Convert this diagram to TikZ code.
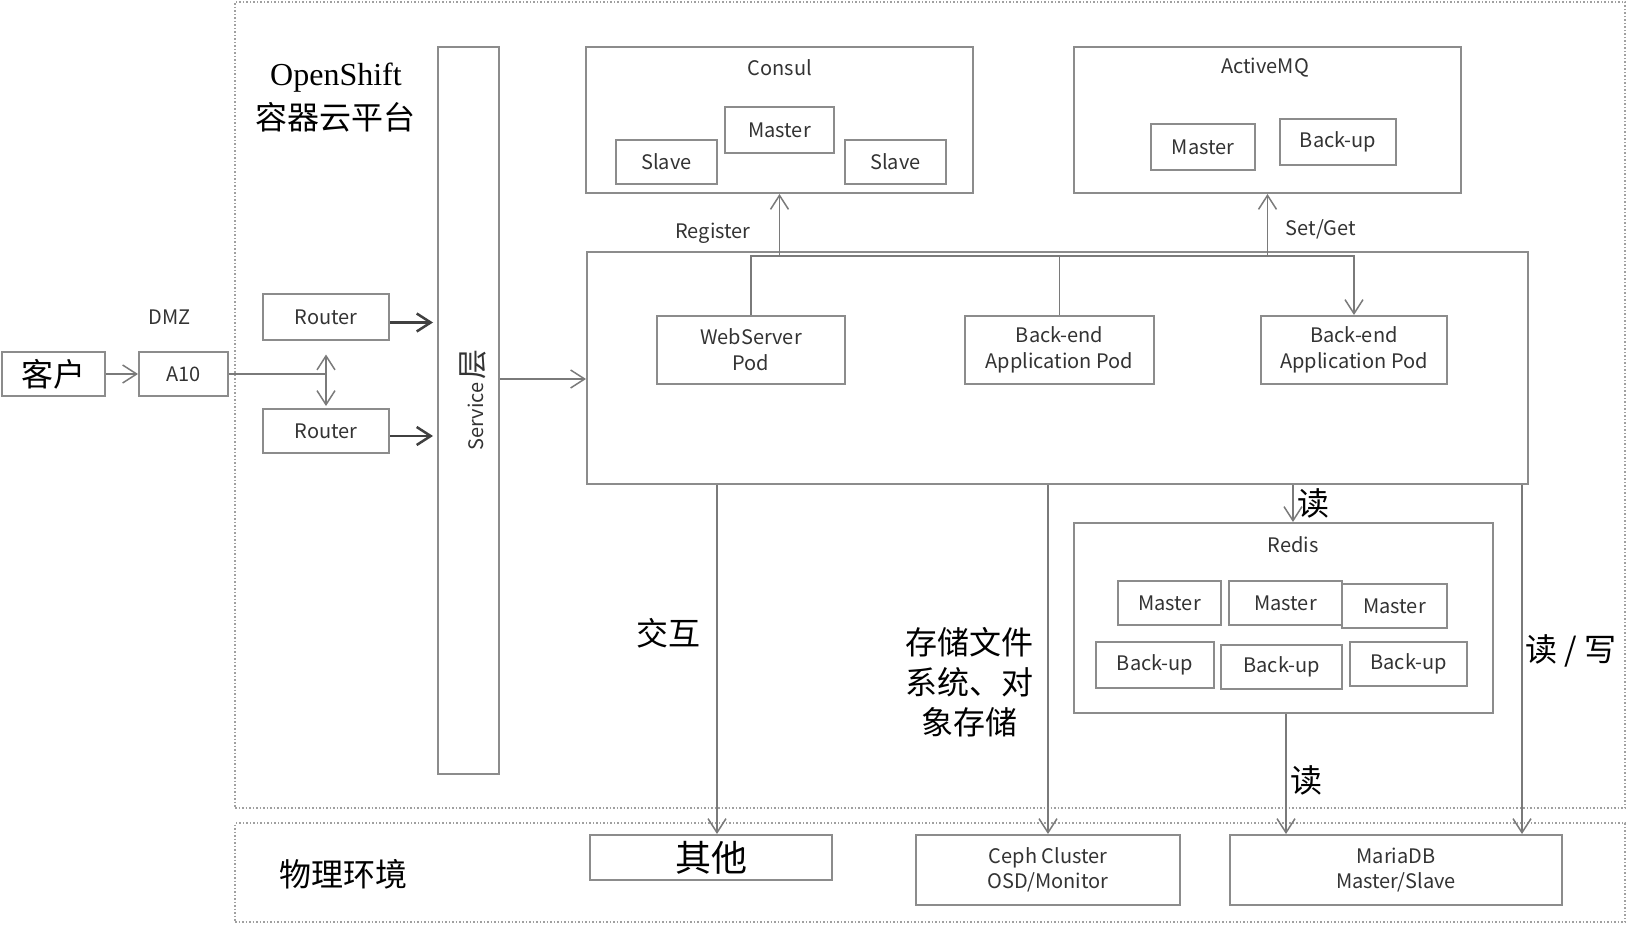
\documentclass[tikz,border=0pt]{standalone}
\usepackage{fontspec}
\setmainfont{Noto Sans CJK SC}
\newfontfamily\serifen{Liberation Serif}
\usetikzlibrary{arrows.meta}
\definecolor{boxgray}{HTML}{8C8C8C}
\definecolor{linegray}{HTML}{7A7A7A}
\definecolor{dotgray}{HTML}{A0A0A0}
\definecolor{routergray}{HTML}{404040}
\definecolor{labelgray}{HTML}{333333}

\begin{document}
\begin{tikzpicture}[x=1pt, y=-1pt,
    box/.style={draw=boxgray, line width=2pt, fill=white, inner sep=0pt, align=center, text=labelgray, font=\fontsize{20}{26}\selectfont},
    lbl/.style={text=labelgray, font=\fontsize{20}{26}\selectfont},
    cn/.style={text=black, font=\fontsize{32}{40}\selectfont},
    zone/.style={draw=dotgray, line width=1.5pt, dotted, inner sep=0pt},
    wire/.style={draw=linegray, line width=1.5pt},
    arr/.style={wire, -{Straight Barb[length=14pt, width=18pt]}},
    dbl/.style={wire, {Straight Barb[length=14pt, width=18pt]}-{Straight Barb[length=14pt, width=18pt]}},
    darr/.style={draw=routergray, line width=2.5pt, -{Straight Barb[length=14pt, width=18pt]}}]
    \useasboundingbox (0,0) rectangle (1628,925);

    \node[zone, minimum width=1390pt, minimum height=806pt] (ocp) at (930,405) {};
    \node[zone, minimum width=1390pt, minimum height=99pt] (phys) at (930,872.5) {};
    \node[font=\serifen\fontsize{32}{38}\selectfont] (osname) at (336,78) {OpenShift};
    \node[cn] (ostitle) at (335,117) {容器云平台};
    \node[cn] (physname) at (343,874) {物理环境};

    \node[box, cn, minimum width=103pt, minimum height=44pt] (client) at (53,374) {客户};
    \node[box, minimum width=89pt, minimum height=44pt] (a10) at (183.5,374) {A10};
    \node[lbl] (dmz) at (170,317) {DMZ};
    \node[box, minimum width=126pt, minimum height=46pt] (router1) at (326,317.5) {Router};
    \node[box, minimum width=126pt, minimum height=44pt] (router2) at (326,431) {Router};
    \node[box, minimum width=61pt, minimum height=727pt] (svc) at (468.5,410.5) {};
    \node[lbl, rotate=90] (svctxt) at (473,400) {Service\,{\fontsize{30}{30}\selectfont 层}};

    \node[box, minimum width=387pt, minimum height=146pt] (consul) at (779.5,120) {};
    \node[lbl] (consultitle) at (780,68) {Consul};
    \node[box, minimum width=109pt, minimum height=46pt] (cmaster) at (779.5,130) {Master};
    \node[box, minimum width=101pt, minimum height=44pt] (cslave1) at (666.5,162) {Slave};
    \node[box, minimum width=101pt, minimum height=44pt] (cslave2) at (895.5,162) {Slave};

    \node[box, minimum width=387pt, minimum height=146pt] (amq) at (1267.5,120) {};
    \node[lbl] (amqtitle) at (1265,68) {ActiveMQ};
    \node[box, minimum width=104pt, minimum height=46pt] (amaster) at (1203,147) {Master};
    \node[box, minimum width=116pt, minimum height=46pt] (abackup) at (1338,142) {Back-up};

    \node[box, minimum width=941pt, minimum height=232pt] (app) at (1057.5,368) {};
    \node[box, minimum width=188pt, minimum height=68pt] (web) at (751,350) {WebServer\\Pod};
    \node[box, minimum width=189pt, minimum height=68pt] (be1) at (1059.5,350) {Back-end\\Application Pod};
    \node[box, minimum width=186pt, minimum height=68pt] (be2) at (1354,350) {Back-end\\Application Pod};

    \node[box, minimum width=419pt, minimum height=190pt] (redis) at (1283.5,618) {};
    \node[lbl] (redistitle) at (1293,545) {Redis};
    \node[box, minimum width=103pt, minimum height=44pt] (rmaster1) at (1169.5,603) {Master};
    \node[box, minimum width=113pt, minimum height=44pt] (rmaster2) at (1285.5,603) {Master};
    \node[box, minimum width=105pt, minimum height=44pt] (rmaster3) at (1394.5,606) {Master};
    \node[box, minimum width=118pt, minimum height=46pt] (rbackup1) at (1155,665) {Back-up};
    \node[box, minimum width=121pt, minimum height=44pt] (rbackup2) at (1281.5,667) {Back-up};
    \node[box, minimum width=117pt, minimum height=44pt] (rbackup3) at (1408.5,664) {Back-up};

    \node[box, minimum width=242pt, minimum height=45pt, text=black, font=\fontsize{36}{40}\selectfont] (other) at (711,857.5) {其他};
    \node[box, minimum width=264pt, minimum height=70pt, font=\fontsize{20}{25}\selectfont] (ceph) at (1048,870) {Ceph Cluster\\OSD/Monitor};
    \node[box, minimum width=332pt, minimum height=70pt, font=\fontsize{20}{25}\selectfont] (maria) at (1396,870) {MariaDB\\Master/Slave};

    \node[cn] (jiaohu) at (668,633) {交互};
    \node[cn, align=center] (storage) at (969,682) {存储文件\\系统、对\\象存储};
    \node[cn] (rw) at (1571,651) {读 / 写};
    \node[lbl] (register) at (713,233) {Register};
    \node[lbl, anchor=west] (setget) at (1282,229) {Set/Get};

    \coordinate (mid) at (0,379);
    \coordinate (bus) at (0,256);
    \coordinate (xj) at (717,0);
    \coordinate (xr) at (1286,0);
    \coordinate (xw) at (1522,0);

    \draw[arr] (client) -- (a10);
    \draw[wire] (a10.east) -- (a10.east -| router1.south);
    \draw[dbl, shorten <=13pt, shorten >=2pt] (router1.south) -- (router2.north);
    \draw[darr, shorten >=4pt] ([yshift=-5pt]router1.east) -- ([yshift=-5pt]router1.east -| svc.west);
    \draw[darr, shorten >=4pt] ([yshift=-5pt]router2.east) -- ([yshift=-5pt]router2.east -| svc.west);
    \draw[arr] (svc.east |- mid) -- (app.west |- mid);

    \draw[arr] (web.north) |- (bus -| be2.north) -- (be2.north);
    \draw[wire] (be1.north) -- (be1.north |- bus);
    \draw[arr] (consul.south |- bus) -- (consul.south);
    \draw[arr] (amq.south |- bus) -- (amq.south);

    \draw[arr] (app.south -| redistitle) -- (redis.north -| redistitle) node[cn, midway, right] (read1) {读};
    \draw[arr] (app.south -| xj) -- (other.north -| xj);
    \draw[arr] (app.south -| ceph.north) -- (ceph.north);
    \draw[arr] (redis.south -| xr) -- (maria.north -| xr) node[cn, pos=0.55, right] (read2) {读};
    \draw[arr] (app.south -| xw) -- (maria.north -| xw);
\end{tikzpicture}
\end{document}
